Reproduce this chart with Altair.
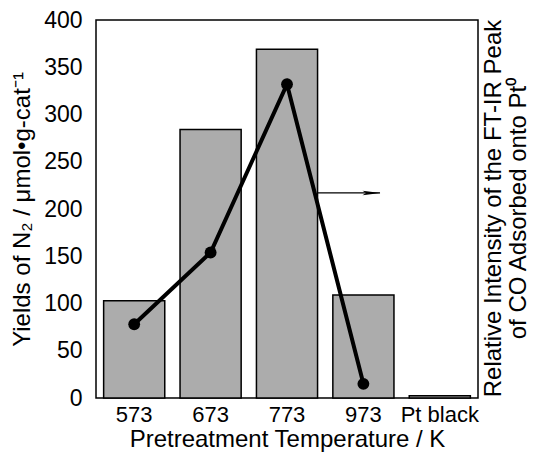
import altair as alt
import pandas as pd

categories = ["573", "673", "773", "973", "Pt black"]
yields = [103, 284, 369, 109, 2.5]
line_categories = ["573", "673", "773", "973"]
intensity = [78, 154, 332, 15]
arrow_value = [217]

bars_df = pd.DataFrame({"cat": categories, "yield": yields})
line_df = pd.DataFrame({"cat": line_categories, "intensity": intensity})
arrow_df = pd.DataFrame({"v": arrow_value})

xscale = alt.Scale(domain=categories, paddingInner=0.2, paddingOuter=0.1)
yscale = alt.Scale(domain=[0, 400], nice=False)

bars = alt.Chart(bars_df).mark_bar(color="#acacac", stroke="black", strokeWidth=1.5).encode(
    x=alt.X("cat:N", scale=xscale, sort=categories,
            axis=alt.Axis(title="Pretreatment Temperature / K", labelAngle=0, ticks=False,
                          domain=False, labelPadding=6, titlePadding=2, labelFontSize=22)),
    y=alt.Y("yield:Q", scale=yscale,
            axis=alt.Axis(title="Yields of N₂ / μmol•g-cat⁻¹", values=list(range(0, 401, 50)),
                          ticks=False, domain=False, grid=False, labelPadding=14,
                          titleAngle=270, titleX=-74, titleY=189,
                          titleBaseline="middle", titleAlign="center")),
)

line = alt.Chart(line_df).mark_line(color="black", strokeWidth=4).encode(
    x=alt.X("cat:N", scale=xscale, sort=categories),
    y=alt.Y("intensity:Q", scale=yscale,
            axis=alt.Axis(orient="right", labels=False, ticks=False, domain=False, grid=False,
                          title=["Relative Intensity of the FT-IR Peak", "of CO Adsorbed onto Pt⁰"],
                          titleAngle=270, titleX=22, titleY=188, titleLineHeight=25,
                          titleBaseline="alphabetic", titleAlign="center")),
)

points = alt.Chart(line_df).mark_point(filled=True, color="black", size=140, opacity=1).encode(
    x=alt.X("cat:N", scale=xscale, sort=categories),
    y=alt.Y("intensity:Q", scale=yscale, axis=None),
)

arrow_line = alt.Chart(arrow_df).mark_rule(color="black", strokeWidth=1.2).encode(
    x=alt.value(222), x2=alt.value(284),
    y=alt.Y("v:Q", scale=yscale, axis=None),
)

arrow_head = alt.Chart(arrow_df).mark_point(
    shape="M-1,-0.25L1,0L-1,0.25L-0.6,0Z", filled=True, color="black", size=324, opacity=1
).encode(
    x=alt.value(275.5),
    y=alt.Y("v:Q", scale=yscale, axis=None),
)

chart = alt.layer(bars, arrow_line, arrow_head, line, points).resolve_axis(
    y="independent"
).properties(
    width=382, height=378,
    autosize=alt.AutoSizeParams(type="none"),
    padding={"left": 88, "top": 12, "right": 51, "bottom": 55},
).configure_view(
    stroke="black", strokeWidth=1.5
).configure_axis(
    labelFont="Liberation Sans", titleFont="Liberation Sans",
    labelFontSize=23, titleFontSize=24, labelColor="black", titleColor="black",
    titleFontWeight="normal",
)

chart.save("out.html", embed_options={"renderer": "svg", "actions": False})
